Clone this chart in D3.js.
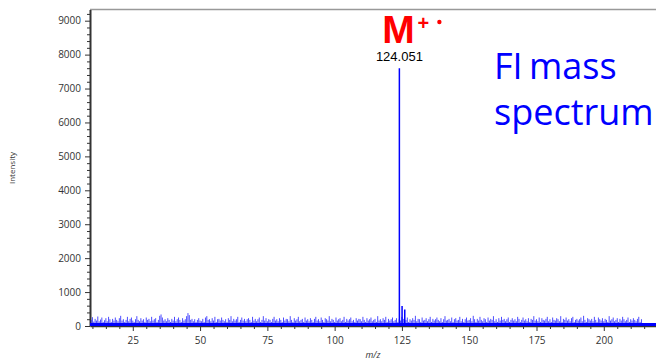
<!DOCTYPE html>
<html>
<head>
<meta charset="utf-8">
<script src="https://cdn.jsdelivr.net/npm/d3@7"></script>
<style>
  body { margin: 0; background: #fff; }
  svg { display: block; }
  .axis text { font-family: "Open Sans", sans-serif; font-size: 10px; fill: #333; }
  .axis path, .axis line { stroke: #333; }
</style>
</head>
<body>
<div class="chart"></div>
<script>
// peaks (m/z, intensity)
var peakMz = [124.051, 125.05, 126.05];
var peakInt = [7600, 590, 490];

// baseline noise, every 0.5 m/z starting at 9.5
var noiseStart = 9.5;
var noiseStep = 0.5;
var noise = [
  180, 260, 130, 210, 160, 280, 140, 190, 250, 120, 170, 230, 140, 270, 200, 120, 210, 160, 250, 180,
  140, 230, 300, 160, 200, 120, 180, 270, 140, 210, 250, 160, 120, 200, 290, 180, 140, 230, 160, 200,
  120, 250, 180, 210, 140, 270, 160, 200, 230, 120, 180, 300, 340, 250, 160, 200, 140, 230, 180, 120,
  210, 160, 270, 140, 200, 250, 180, 120, 230, 160, 200, 290, 380, 320, 180, 210, 140, 200, 120, 180,
  230, 160, 140, 210, 120, 250, 290, 180, 200, 140, 230, 160, 270, 120, 200, 210, 160, 250, 180, 140,
  200, 120, 230, 180, 290, 140, 210, 160, 200, 270, 120, 180, 250, 160, 210, 140, 200, 230, 180, 120,
  270, 160, 210, 140, 200, 250, 120, 180, 290, 160, 230, 140, 200, 180, 120, 210, 270, 160, 200, 140,
  230, 180, 120, 250, 160, 210, 200, 140, 290, 180, 120, 230, 160, 200, 270, 140, 180, 210, 120, 250,
  160, 200, 140, 230, 180, 120, 210, 270, 160, 200, 140, 250, 180, 120, 230, 200, 160, 290, 140, 210,
  180, 120, 250, 160, 200, 230, 140, 180, 270, 120, 210, 160, 200, 250, 140, 180, 120, 230, 160, 210,
  200, 140, 270, 180, 120, 230, 160, 200, 250, 140, 180, 210, 120, 290, 160, 200, 140, 230, 180, 270,
  120, 210, 160, 200, 250, 140, 180, 230, 120, 200, 160, 270, 210, 140, 180, 250, 120, 200, 160, 230,
  180, 300, 140, 210, 200, 120, 250, 160, 180, 230, 140, 200, 270, 120, 210, 160, 200, 250, 180, 140,
  230, 120, 200, 290, 160, 180, 210, 140, 250, 120, 200, 230, 160, 180, 270, 140, 210, 120, 200, 250,
  160, 180, 230, 140, 300, 200, 120, 210, 160, 270, 180, 140, 230, 200, 120, 250, 160, 210, 180, 290,
  140, 200, 120, 230, 160, 270, 180, 210, 140, 200, 250, 120, 180, 230, 160, 200, 140, 270, 210, 120,
  180, 250, 160, 200, 140, 230, 120, 210, 180, 290, 160, 200, 140, 250, 120, 230, 180, 160, 210, 270,
  140, 200, 120, 250, 180, 160, 230, 200, 140, 290, 120, 210, 180, 250, 160, 200, 140, 230, 270, 120,
  180, 210, 160, 200, 250, 140, 300, 180, 120, 230, 200, 160, 210, 140, 270, 180, 120, 250, 200, 160,
  230, 140, 210, 180, 120, 290, 160, 200, 250, 140, 180, 230, 120, 210, 160, 270, 200, 140, 180, 250,
  120, 200, 160, 230, 180, 140, 210, 270, 120, 200
];

var xTicks = [25, 50, 75, 100, 125, 150, 175, 200];
var yTicks = [0, 1000, 2000, 3000, 4000, 5000, 6000, 7000, 8000, 9000];

var svgWidth = 656;
var svgHeight = 362;

var margin = { top: 9.5, right: 0, bottom: 36, left: 90 };
var width = svgWidth - margin.left - margin.right;
var height = svgHeight - margin.top - margin.bottom;

var svg = d3.select(".chart")
  .append("svg")
  .attr("width", svgWidth)
  .attr("height", svgHeight);

var chartGroup = svg.append("g")
  .attr("transform", `translate(${margin.left}, ${margin.top})`);

var x = d3.scaleLinear().domain([9.1, 219.4]).range([0, width]);
var y = d3.scaleLinear().domain([0, 9330]).range([height, 0]);

// top frame line
chartGroup.append("line")
  .attr("x1", 0).attr("x2", width)
  .attr("y1", 0).attr("y2", 0)
  .attr("stroke", "#999").attr("stroke-width", 1.5);

// minor ticks
var xMinor = d3.range(10, 220, 5).filter(d => d % 25 != 0);
chartGroup.append("g")
  .attr("class", "axis")
  .attr("transform", `translate(0, ${height})`)
  .call(d3.axisBottom(x).tickValues(xMinor).tickSize(3).tickFormat(""))
  .select(".domain").remove();

var yMinor = d3.range(200, 9300, 200).filter(d => d % 1000 != 0);
chartGroup.append("g")
  .attr("class", "axis")
  .call(d3.axisLeft(y).tickValues(yMinor).tickSize(3).tickFormat(""))
  .select(".domain").remove();

// major axes
var xAxis = chartGroup.append("g")
  .attr("class", "axis")
  .attr("transform", `translate(0, ${height})`)
  .call(d3.axisBottom(x).tickValues(xTicks).tickSize(5).tickPadding(6).tickSizeOuter(0));
xAxis.select(".domain").attr("stroke-width", 1.5);

var yAxis = chartGroup.append("g")
  .attr("class", "axis")
  .call(d3.axisLeft(y).tickValues(yTicks).tickSize(5).tickPadding(4).tickSizeOuter(0).tickFormat(d3.format("d")));
yAxis.select(".domain").attr("stroke", "#555").attr("stroke-width", 2);

// noise spikes
chartGroup.append("g")
  .selectAll("line")
  .data(noise)
  .enter()
  .append("line")
  .attr("x1", (d, i) => x(noiseStart + i * noiseStep))
  .attr("x2", (d, i) => x(noiseStart + i * noiseStep))
  .attr("y1", y(0))
  .attr("y2", d => y(d))
  .attr("stroke", "#0000ff")
  .attr("stroke-opacity", 0.7)
  .attr("stroke-width", 1);

// thick baseline
chartGroup.append("line")
  .attr("x1", 0).attr("x2", width)
  .attr("y1", y(0) - 1.5).attr("y2", y(0) - 1.5)
  .attr("stroke", "#0000ff").attr("stroke-width", 3);

// peaks
chartGroup.append("g")
  .selectAll("line")
  .data(peakMz)
  .enter()
  .append("line")
  .attr("x1", d => x(d))
  .attr("x2", d => x(d))
  .attr("y1", y(0))
  .attr("y2", (d, i) => y(peakInt[i]))
  .attr("stroke", "#0000ff")
  .attr("stroke-width", 1.5);

// peak label
chartGroup.append("text")
  .attr("x", x(peakMz[0]))
  .attr("y", y(peakInt[0]) - 7)
  .attr("text-anchor", "middle")
  .style("font-family", "Liberation Sans, Arial, sans-serif")
  .style("font-size", "13px")
  .attr("fill", "#000")
  .text(peakMz[0].toFixed(3));

// M+. annotation
var mx = x(peakMz[0]);
svg.append("text")
  .attr("x", margin.left + mx - 1)
  .attr("y", 43)
  .attr("text-anchor", "middle")
  .style("font-family", "Liberation Sans, Arial, sans-serif")
  .style("font-weight", "bold")
  .style("font-size", "39px")
  .attr("fill", "#ff0000")
  .text("M");
svg.append("text")
  .attr("x", margin.left + mx + 18)
  .attr("y", 30)
  .style("font-family", "Liberation Sans, Arial, sans-serif")
  .style("font-weight", "bold")
  .style("font-size", "20px")
  .attr("fill", "#ff0000")
  .text("+");
svg.append("circle")
  .attr("cx", margin.left + mx + 40)
  .attr("cy", 22)
  .attr("r", 2.2)
  .attr("fill", "#ff0000");

// title text
svg.append("text")
  .attr("x", 494)
  .attr("y", 79)
  .style("font-family", "Open Sans, sans-serif")
  .style("font-size", "36px")
  .style("word-spacing", "-3px")
  .attr("fill", "#0000ff")
  .text("FI mass");
svg.append("text")
  .attr("x", 494)
  .attr("y", 125)
  .style("font-family", "Open Sans, sans-serif")
  .style("font-size", "36px")
  .attr("fill", "#0000ff")
  .text("spectrum");

// axis labels
svg.append("text")
  .attr("transform", "translate(15, 168) rotate(-90)")
  .attr("text-anchor", "middle")
  .style("font-family", "Open Sans, sans-serif")
  .style("font-size", "8px")
  .attr("fill", "#333")
  .text("Intensity");

svg.append("text")
  .attr("x", 373)
  .attr("y", 358)
  .attr("text-anchor", "middle")
  .style("font-family", "Open Sans, sans-serif")
  .style("font-size", "9px")
  .style("font-style", "italic")
  .attr("fill", "#333")
  .text("m/z");
</script>
</body>
</html>
